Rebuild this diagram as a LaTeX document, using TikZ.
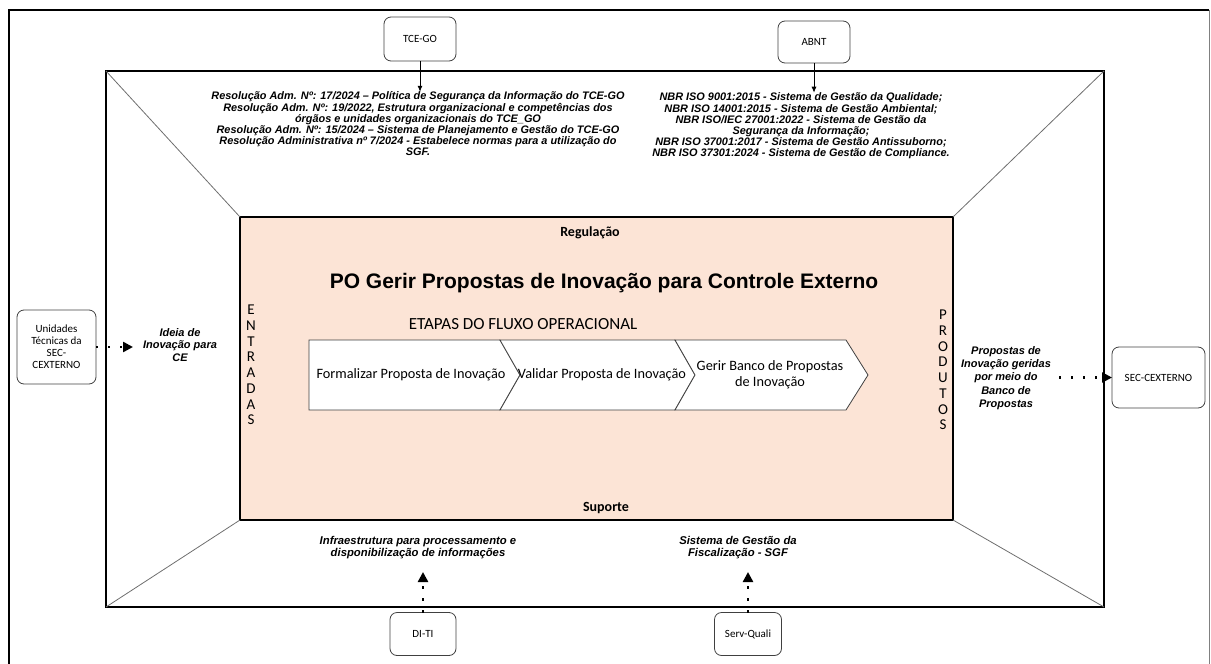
\documentclass[tikz,border=0pt]{standalone}
\usepackage{fontspec}
\setmainfont{Liberation Sans}
\newfontfamily\calibri{Carlito}
\usetikzlibrary{arrows.meta,positioning}
\definecolor{corefill}{HTML}{FCE4D6}
\definecolor{edgegray}{HTML}{404040}
\definecolor{diaggray}{HTML}{6E6E6E}

\begin{document}
\begin{tikzpicture}[x=1pt,y=-1pt,
    unit/.style={draw=edgegray, rounded corners=7pt, line width=0.8pt, align=center,
      font=\calibri\fontsize{11}{12}\selectfont, inner sep=1pt, outer sep=0pt},
    note/.style={align=center, inner sep=0pt,
      font=\bfseries\itshape\fontsize{10.9}{11.2}\selectfont},
    side/.style={align=center, inner sep=0pt,
      font=\bfseries\itshape\fontsize{11}{13.2}\selectfont},
    vword/.style={align=center, inner sep=0pt, font=\calibri\fontsize{15}{15.7}\selectfont},
    band/.style={inner sep=0pt, font=\calibri\bfseries\fontsize{14}{16}\selectfont},
    chev/.style={draw=edgegray, fill=white, line width=0.8pt},
    step text/.style={align=center, inner sep=0pt, font=\calibri\fontsize{14.3}{16}\selectfont},
    feed/.style={-{Latex[length=6pt,width=5pt]}, line width=0.8pt},
    dotfeed/.style={line width=2.4pt, dash pattern=on 2.2pt off 9.8pt,
      -{Triangle[length=10pt,width=10pt]}},
    diag/.style={draw=diaggray, line width=0.8pt}]
  \useasboundingbox (0,0) rectangle (1211,664);

  % outer page frame
  \draw[line width=2.6pt] (9,664) -- (9,10) -- (1209,10);
  \draw[draw=gray, line width=0.8pt] (1209,10) -- (1209,664);

  % frame and core
  \node (frame) [draw, line width=2.6pt, minimum width=998pt, minimum height=536pt,
    outer sep=0pt, inner sep=0pt] at (605,339) {};
  \node (core) [draw, fill=corefill, line width=1.2pt, minimum width=713pt,
    minimum height=303pt, outer sep=0pt, inner sep=0pt] at (596.5,368.5) {};
  \draw[diag] (frame.north west) -- (core.north west);
  \draw[diag] (frame.north east) -- (core.north east);
  \draw[diag] (frame.south west) -- (core.south west);
  \draw[diag] (frame.south east) -- (core.south east);

  % core texts
  \node (regulacao) [band] at (590,233) {Regulação};
  \node (suporte) [band] at (606,508) {Suporte};
  \node (titulo) [inner sep=0pt, font=\bfseries\fontsize{21}{24}\selectfont]
    at (604,283) {PO Gerir Propostas de Inovação para Controle Externo};
  \node (etapas) [inner sep=0pt, font=\calibri\fontsize{17}{18}\selectfont]
    at (523,324) {ETAPAS DO FLUXO OPERACIONAL};
  \node (entradas) [vword] at (251,365) {E\\N\\T\\R\\A\\D\\A\\S};
  \node (produtos) [vword] at (943,370) {P\\R\\O\\D\\U\\T\\O\\S};

  % etapas
  \draw[chev] (309,340) -- (500,340) -- (520,375) -- (500,410) -- (309,410) -- cycle;
  \draw[chev] (500,340) -- (675,340) -- (695,375) -- (675,410) -- (500,410) -- (520,375) -- cycle;
  \draw[chev] (675,340) -- (846,340) -- (868,375) -- (846,410) -- (675,410) -- (695,375) -- cycle;
  \node (formalizar) [step text] at (411,375) {Formalizar Proposta de Inovação};
  \node (validar) [step text] at (602,375) {Validar Proposta de Inovação};
  \node (banco) [step text] at (770,375) {Gerir Banco de Propostas\\de Inovação};

  % regulacao
  \node (tce) [unit, minimum width=72pt, minimum height=44pt] at (420,39) {TCE-GO};
  \node (abnt) [unit, minimum width=72pt, minimum height=42pt] at (814,42) {ABNT};
  \node (tcetext) [note] at (418,124) {Resolução Adm. Nº: 17/2024 – Política de Segurança da Informação do TCE-GO\\
    Resolução Adm. Nº: 19/2022, Estrutura organizacional e competências dos\\
    órgãos e unidades organizacionais do TCE\_GO\\
    Resolução Adm. Nº: 15/2024 – Sistema de Planejamento e Gestão do TCE-GO\\
    Resolução Administrativa nº 7/2024 - Estabelece normas para a utilização do\\
    SGF.};
  \node (abnttext) [note] at (801,126) {NBR ISO 9001:2015 - Sistema de Gestão da Qualidade;\\
    NBR ISO 14001:2015 - Sistema de Gestão Ambiental;\\
    NBR ISO/IEC 27001:2022 - Sistema de Gestão da\\
    Segurança da Informação;\\
    NBR ISO 37001:2017 - Sistema de Gestão Antissuborno;\\
    NBR ISO 37301:2024 - Sistema de Gestão de Compliance.};
  \draw[feed] (tce.south) -- (tce.south |- tcetext.north);
  \draw[feed] (abnt.south) -- (abnt.south |- abnttext.north);

  % entradas e produtos
  \node (unidades) [unit, minimum width=79pt, minimum height=74pt] at (56.5,347)
    {Unidades\\Técnicas da\\SEC-\\CEXTERNO};
  \node (ideia) [side, font=\bfseries\itshape\fontsize{11}{12.2}\selectfont] at (180,345)
    {Ideia de\\Inovação para\\CE};
  \coordinate (ideiain) at (133,347);
  \draw[dotfeed] (unidades.east |- ideiain) -- (ideiain);
  \node (propostas) [side] at (1006,378)
    {Propostas de\\Inovação geridas\\por meio do\\Banco de\\Propostas};
  \node (secext) [unit, minimum width=93pt, minimum height=61pt] at (1158.5,377.5) {SEC-CEXTERNO};
  \coordinate (propout) at (1059,377.5);
  \draw[dotfeed] (propout) -- (secext.west);

  % suporte
  \node (diti) [unit, minimum width=66pt, minimum height=43pt] at (423,634) {DI-TI};
  \node (servquali) [unit, minimum width=67pt, minimum height=43pt] at (748,634) {Serv-Quali};
  \node (infra) [side, font=\bfseries\itshape\fontsize{11.3}{12}\selectfont] at (418,548)
    {Infraestrutura para processamento e\\disponibilização de informações};
  \node (sgf) [side, font=\bfseries\itshape\fontsize{11.3}{12}\selectfont] at (738,548)
    {Sistema de Gestão da\\Fiscalização - SGF};
  \coordinate (ditiup) at (423,572);
  \coordinate (servup) at (748,572);
  \draw[dotfeed] (diti.north) -- (ditiup);
  \draw[dotfeed] (servquali.north) -- (servup);
\end{tikzpicture}
\end{document}
